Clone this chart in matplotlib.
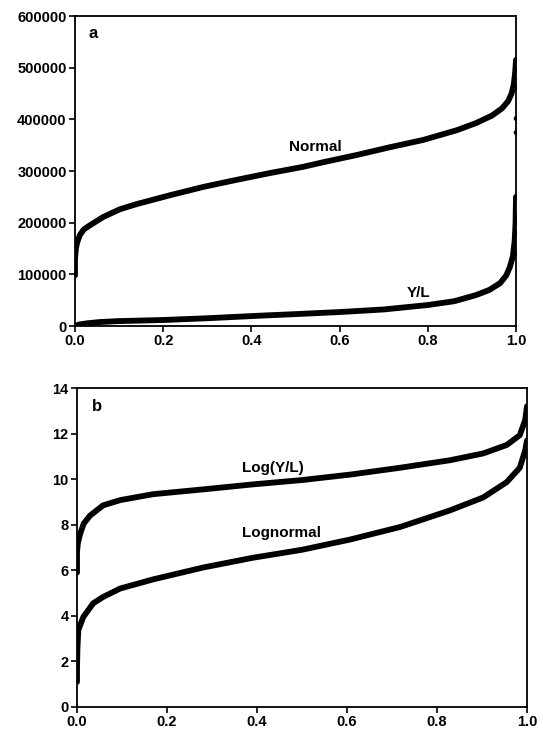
import matplotlib
matplotlib.use("Agg")
import matplotlib.pyplot as plt

plt.rcParams['font.family'] = ['Liberation Sans', 'DejaVu Sans']

# Panel a data
normal_x = [0.0, 0.0, 0.002, 0.005, 0.011, 0.02, 0.034, 0.064, 0.102, 0.14, 0.215, 0.29, 0.367,
            0.442, 0.517, 0.563, 0.639, 0.714, 0.789, 0.866, 0.91, 0.945, 0.968, 0.982, 0.99,
            0.995, 0.998, 1.0]
normal_y = [98000, 130000, 150000, 162000, 176000, 187000, 195000, 211000, 226000, 236000, 253000,
            269000, 283000, 296000, 308000, 317000, 331000, 346000, 360000, 379000, 393000, 407000,
            421000, 435000, 450000, 468000, 490000, 515000]
yl_x = [0.0, 0.01, 0.03, 0.057, 0.1, 0.2, 0.3, 0.42, 0.5, 0.6, 0.7, 0.8, 0.86, 0.91, 0.94, 0.964,
        0.978, 0.986, 0.993, 0.997, 0.999, 1.0]
yl_y = [0, 3000, 5500, 7700, 9500, 11600, 15000, 20000, 23000, 27000, 32000, 40600, 48000, 60000,
        70000, 83000, 98000, 114000, 135000, 165000, 200000, 250000]
normal_tail_y = [375000, 403000, 463000, 495000, 515000]
yl_tail_y = [141000, 180000, 199000, 211000, 250000]

# Panel b data
logyl_x = [0.0, 0.0, 0.002, 0.007, 0.015, 0.029, 0.058, 0.096, 0.169, 0.28, 0.391, 0.5, 0.607,
           0.718, 0.829, 0.903, 0.955, 0.984, 0.996, 1.0]
logyl_y = [5.9, 6.8, 7.2, 7.6, 8.05, 8.4, 8.85, 9.08, 9.34, 9.55, 9.77, 9.96, 10.2, 10.5, 10.83,
           11.13, 11.5, 11.93, 12.6, 13.2]
lognorm_x = [0.0, 0.0, 0.001, 0.003, 0.014, 0.036, 0.058, 0.096, 0.169, 0.28, 0.391, 0.5, 0.607,
             0.718, 0.829, 0.903, 0.955, 0.984, 0.996, 1.0]
lognorm_y = [1.1, 1.7, 2.6, 3.38, 3.95, 4.55, 4.83, 5.2, 5.6, 6.12, 6.55, 6.9, 7.35, 7.9, 8.63,
             9.2, 9.87, 10.5, 11.27, 11.7]

xticks = [0.0, 0.2, 0.4, 0.6, 0.8, 1.0]
xticklabels = ['0.0', '0.2', '0.4', '0.6', '0.8', '1.0']
a_yticks = [0, 100000, 200000, 300000, 400000, 500000, 600000]
b_yticks = [0, 2, 4, 6, 8, 10, 12, 14]

fig = plt.figure(figsize=(5.43, 7.38), dpi=100)
axa = fig.add_axes([75/543, 1-326/738, (516-75)/543, (326-16)/738])
axb = fig.add_axes([77/543, 1-707/738, (527-77)/543, (707-388)/738])

lw = 4.2
fs = 10.5
lfs = 11
axa.plot(normal_x, normal_y, color='black', lw=lw, solid_capstyle='round', solid_joinstyle='round')
axa.plot(yl_x, yl_y, color='black', lw=lw, solid_capstyle='round', solid_joinstyle='round')
axa.plot([1.0]*len(normal_tail_y), normal_tail_y, 'o', color='black', ms=3)
axa.plot([1.0]*len(yl_tail_y), yl_tail_y, 'o', color='black', ms=3)
axa.set_xlim(0, 1.0)
axa.set_ylim(0, 600000)
axa.set_yticks(a_yticks)
axa.set_yticklabels([str(v) for v in a_yticks])
axa.text(0.03, 567000, 'a', fontsize=lfs+1, fontweight='bold', va='center', ha='left')
axa.text(0.544, 346000, 'Normal', fontsize=lfs, fontweight='bold', ha='center', va='center')
axa.text(0.778, 64000, 'Y/L', fontsize=lfs, fontweight='bold', ha='center', va='center')

axb.plot(logyl_x, logyl_y, color='black', lw=lw, solid_capstyle='round', solid_joinstyle='round')
axb.plot(lognorm_x, lognorm_y, color='black', lw=lw, solid_capstyle='round', solid_joinstyle='round')
axb.set_xlim(0, 1.0)
axb.set_ylim(0, 14)
axb.set_yticks(b_yticks)
axb.set_yticklabels([str(v) for v in b_yticks])
axb.text(0.033, 13.2, 'b', fontsize=lfs+1, fontweight='bold', va='center', ha='left')
axb.text(0.436, 10.5, 'Log(Y/L)', fontsize=lfs, fontweight='bold', ha='center', va='center')
axb.text(0.455, 7.63, 'Lognormal', fontsize=lfs, fontweight='bold', ha='center', va='center')

for ax in (axa, axb):
    ax.set_xticks(xticks)
    ax.set_xticklabels(xticklabels)
    ax.tick_params(direction='out', length=4, width=1.2, labelsize=fs, pad=2)
    for lab in ax.get_xticklabels() + ax.get_yticklabels():
        lab.set_fontweight('bold')
    for s in ax.spines.values():
        s.set_linewidth(1.3)

fig.savefig('out.png', dpi=100)
